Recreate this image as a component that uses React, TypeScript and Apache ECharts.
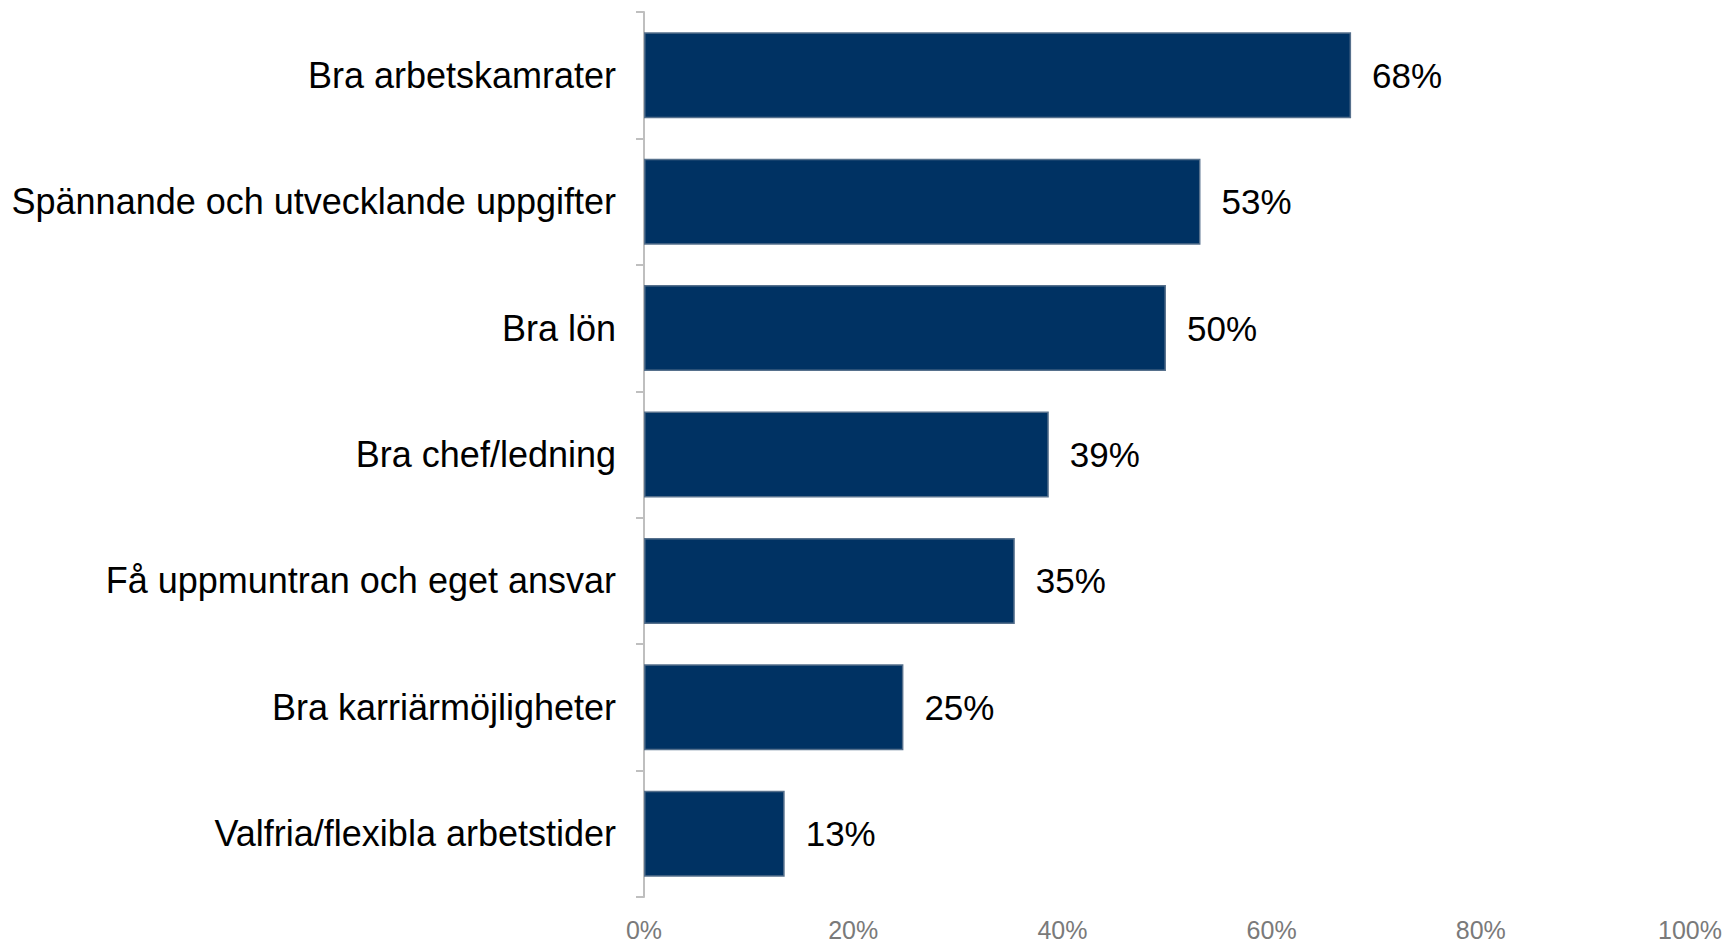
import React, { useEffect, useRef } from "react";
import * as echarts from "echarts";

const categories = [
  "Bra arbetskamrater",
  "Spännande och utvecklande uppgifter",
  "Bra lön",
  "Bra chef/ledning",
  "Få uppmuntran och eget ansvar",
  "Bra karriärmöjligheter",
  "Valfria/flexibla arbetstider",
];
const values = [67.6, 53.2, 49.9, 38.7, 35.45, 24.8, 13.45];
const xTicks = [0, 20, 40, 60, 80, 100];

const FONT = "'Liberation Sans', Arial, Helvetica, sans-serif";

export default function App() {
  const ref = useRef<HTMLDivElement>(null);
  useEffect(() => {
    if (!ref.current) return;
    const chart = echarts.init(ref.current, null, { renderer: "svg" });
    chart.setOption({
      animation: false,
      backgroundColor: "#ffffff",
      grid: { left: 644, right: 37, top: 12, bottom: 46, containLabel: false },
      xAxis: {
        type: "value",
        min: xTicks[0],
        max: xTicks[xTicks.length - 1],
        interval: 20,
        axisLine: { show: false },
        axisTick: { show: false },
        splitLine: { show: false },
        axisLabel: {
          formatter: (v: number) => v + "%",
          color: "#7a7a7a",
          fontSize: 25,
          lineHeight: 25,
          fontFamily: FONT,
          margin: 20,
        },
      },
      yAxis: {
        type: "category",
        data: categories,
        inverse: true,
        axisLine: { show: true, lineStyle: { color: "#bfbfbf", width: 2 } },
        axisTick: { show: true, length: 8, lineStyle: { color: "#bfbfbf", width: 2 } },
        axisLabel: {
          color: "#000000",
          fontSize: 36,
          fontFamily: FONT,
          margin: 28,
        },
      },
      series: [
        {
          type: "bar",
          data: values,
          barWidth: 86,
          itemStyle: { color: "#003263", borderColor: "#56708c", borderWidth: 1.5 },
          label: {
            show: true,
            position: "right",
            distance: 21,
            formatter: (p: any) => Math.round(p.value) + "%",
            color: "#000000",
            fontSize: 35,
            fontFamily: FONT,
          },
        },
      ],
    });
    return () => chart.dispose();
  }, []);
  return (
    <div
      ref={ref}
      style={{ position: "fixed", left: 0, top: 0, width: 1727, height: 943, background: "#fff" }}
    />
  );
}
